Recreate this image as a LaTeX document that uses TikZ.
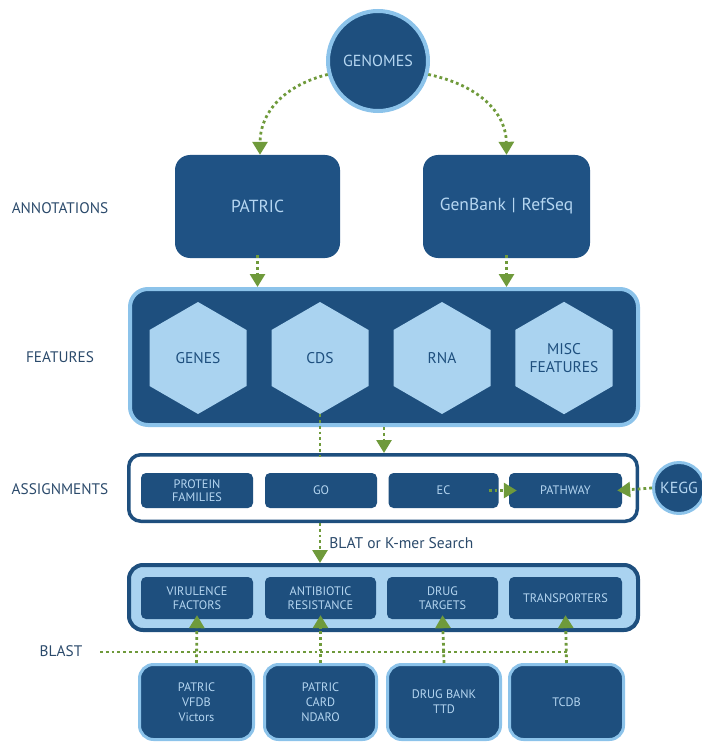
\documentclass[tikz,border=0pt]{standalone}
\usepackage{fontspec}
\setmainfont{PT Sans}
\usetikzlibrary{arrows.meta,shapes.geometric}
\definecolor{dblue}{HTML}{1E4F7E}
\definecolor{bblue}{HTML}{1F5284}
\definecolor{lblue}{HTML}{AAD3F0}
\definecolor{lborder}{HTML}{8CC3EA}
\definecolor{ltext}{HTML}{B5D6F1}
\definecolor{gr}{HTML}{6F9A3B}
\definecolor{labtext}{HTML}{2B4A6B}
\begin{document}
\begin{tikzpicture}[x=1pt,y=-1pt,
  lab/.style={text=labtext,font=\fontsize{15.3}{17}\selectfont,inner sep=0},
  bigbox/.style={fill=bblue,text=ltext,rounded corners=15pt,minimum height=103pt,inner sep=0,font=\fontsize{17.5}{19}\selectfont},
  hexa/.style={regular polygon,regular polygon sides=6,shape border rotate=30,minimum size=112pt,inner sep=0,fill=lblue,text=dblue,align=center,font=\fontsize{15.5}{18}\selectfont},
  smallbox/.style={fill=dblue,text=ltext,rounded corners=5pt,inner sep=0,align=center,font=\fontsize{12.3}{13.5}\selectfont},
  srcbox/.style={fill=dblue,draw=lborder,line width=3pt,text=ltext,rounded corners=14pt,inner sep=0,align=center,minimum height=75pt,font=\fontsize{12.3}{15}\selectfont},
  dotline/.style={draw=gr,line width=2.8pt,dash pattern=on 2.8pt off 3pt},
  garrow/.style={dotline,-{Triangle[width=15pt,length=13pt,fill=gr,color=gr]}}
]
\useasboundingbox (0,0) rectangle (701,743);

% labels
\node[lab] (lann) at (60,208) {ANNOTATIONS};
\node[lab] (lfeat) at (60,357) {FEATURES};
\node[lab] (lass) at (60,489) {ASSIGNMENTS};
\node[lab] (lblast) at (61,651) {BLAST};

% genomes
\node[circle,fill=dblue,draw=lborder,line width=4pt,minimum size=100pt,inner sep=0,text=ltext,font=\fontsize{16}{18}\selectfont] (genomes) at (378,61) {GENOMES};

% annotation boxes
\node[bigbox,minimum width=165pt] (patric) at (257.5,206.5) {PATRIC};
\node[bigbox,minimum width=167pt] (genbank) at (506.5,206.5) {GenBank\,\,|\,\,RefSeq};

% features container
\node[fill=dblue,draw=lborder,line width=4pt,rounded corners=18pt,minimum width=508pt,minimum height=136pt,inner sep=0] (features) at (384,357) {};
\node[hexa] (genes) at (198,358) {GENES};
\node[hexa] (cds) at (320,358) {CDS};
\node[hexa] (rna) at (442,358) {RNA};
\node[hexa] (misc) at (564,358) {MISC\\FEATURES};

% assignments container
\node[fill=white,draw=dblue,line width=3.5pt,rounded corners=12pt,minimum width=508.5pt,minimum height=66.5pt,inner sep=0] (assign) at (383,488) {};
\node[smallbox,minimum width=112pt,minimum height=35pt] (pf) at (197,490.5) {PROTEIN\\FAMILIES};
\node[smallbox,minimum width=112pt,minimum height=35pt] (go) at (321,490.5) {GO};
\node[smallbox,minimum width=110pt,minimum height=35pt] (ec) at (443.5,490.5) {EC};
\node[smallbox,minimum width=113pt,minimum height=35pt] (pathway) at (565.5,490.5) {PATHWAY};
\node[circle,fill=dblue,draw=lborder,line width=3pt,minimum size=51pt,inner sep=0,text=ltext,font=\fontsize{16}{18}\selectfont] (kegg) at (679,488) {KEGG};

% blast container
\node[fill=lblue,draw=dblue,line width=4pt,rounded corners=14pt,minimum width=509pt,minimum height=65pt,inner sep=0] (blastc) at (383.5,597.5) {};
\node[smallbox,minimum width=112pt,minimum height=42pt] (vir) at (197,598) {VIRULENCE\\FACTORS};
\node[smallbox,minimum width=111pt,minimum height=42pt] (anti) at (320.5,598) {ANTIBIOTIC\\RESISTANCE};
\node[smallbox,minimum width=111pt,minimum height=42pt] (drug) at (442.5,598) {DRUG\\TARGETS};
\node[smallbox,minimum width=113pt,minimum height=42pt] (trans) at (565.5,598) {TRANSPORTERS};

% source boxes
\node[srcbox,minimum width=114pt] (s1) at (196.5,702) {PATRIC\\VFDB\\Victors};
\node[srcbox,minimum width=112pt] (s2) at (320.5,702) {PATRIC\\CARD\\NDARO};
\node[srcbox,minimum width=113pt] (s3) at (444,702) {DRUG BANK\\TTD};
\node[srcbox,minimum width=114pt] (s4) at (566.5,702) {TCDB};

% connectors
\draw[garrow] (genomes.195) .. controls (285,85) and (260,112) .. ([xshift=2.5pt]patric.north);
\draw[garrow] (genomes.345) .. controls (478,85) and (506,112) .. (genbank.north);
\draw[garrow] ([yshift=3pt]patric.south) -- (patric.south |- features.north);
\draw[garrow] ([yshift=3pt]genbank.south) -- (genbank.south |- features.north);
\draw[dotline] (cds.south) -- ([yshift=-4pt]cds.south |- assign.north);
\draw[garrow] (features.south) -- (features.south |- assign.north);
\draw[garrow] ([xshift=-10pt]ec.east) -- ([xshift=8pt]pathway.west);
\draw[garrow] (kegg.west) -- ([xshift=-5pt]pathway.east);
\draw[garrow] (cds.south |- assign.south) -- (cds.south |- blastc.north)
  node[pos=0.5,right=8pt,text=labtext,font=\fontsize{15.5}{17}\selectfont,inner sep=0] (blat) {BLAT or K-mer Search};
\coordinate (bl) at (100,652);
\draw[dotline] (bl) -- (bl -| s4.north);
\draw[garrow] (s1.north) -- ([yshift=4pt]vir.south);
\draw[garrow] (s2.north) -- ([yshift=4pt]anti.south);
\draw[garrow] (s3.north) -- ([yshift=4pt]drug.south);
\draw[garrow] (s4.north) -- ([yshift=4pt]trans.south);
\end{tikzpicture}
\end{document}
